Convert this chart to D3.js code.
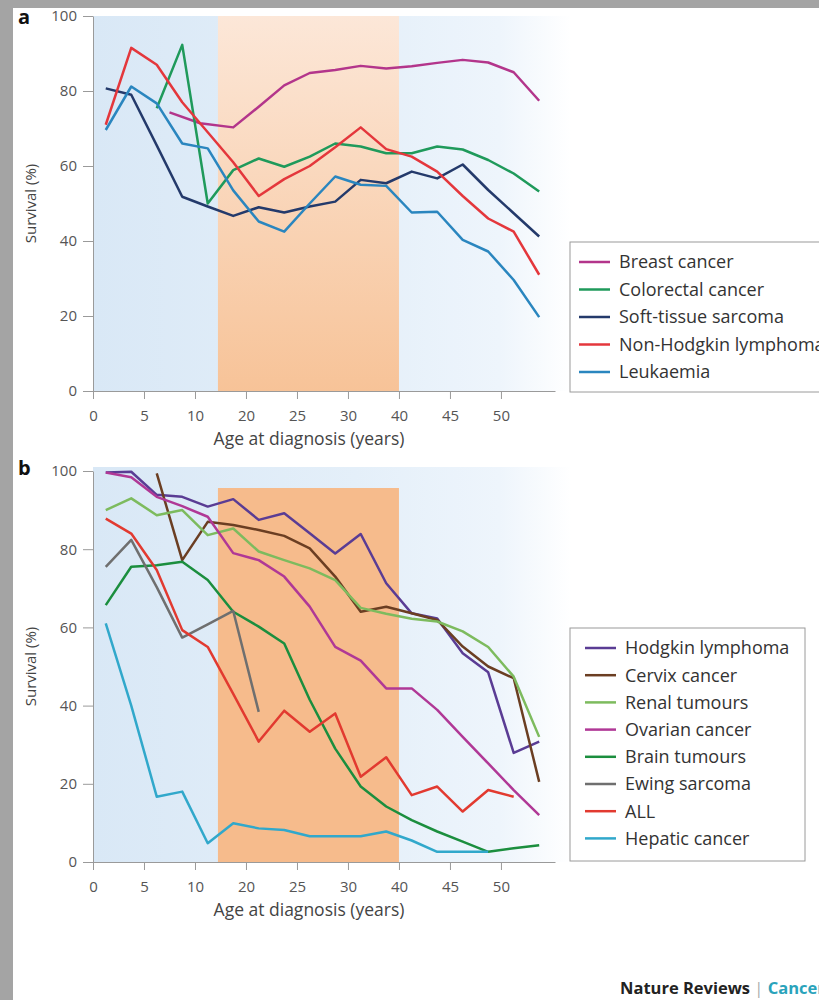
<!DOCTYPE html>
<html>
<head>
<meta charset="utf-8">
<script src="https://cdnjs.cloudflare.com/ajax/libs/d3/7.8.5/d3.min.js"></script>
<style>
  body { margin: 0; background: #fff; }
  svg { display: block; font-family: "Open Sans", sans-serif; }
</style>
</head>
<body>
<div id="chart"></div>
<script>
var width = 819,
    height = 1000;

// the x axis is drawn in tick units: tick i carries label tickLabels[i]
var tickLabels = [0, 5, 10, 20, 25, 30, 40, 45, 50];
var yTicks = [0, 20, 40, 60, 80, 100];

// age groups (same positions for every series except breast cancer)
var agePos = [0.25, 0.75, 1.25, 1.75, 2.25, 2.75, 3.25, 3.75, 4.25,
              4.75, 5.25, 5.75, 6.25, 6.75, 7.25, 7.75, 8.25, 8.75];
var breastPos = [1.5, 2.1, 2.75, 3.25, 3.75, 4.25, 4.75, 5.25,
                 5.75, 6.25, 6.75, 7.25, 7.75, 8.25, 8.75];

// panel a
var breast     = [74.3, 71.4, 70.3, 75.8, 81.5, 84.8, 85.6, 86.7, 86, 86.6, 87.5, 88.3, 87.6, 85, 77.4];
var colorectal = [null, null, 75.4, 92.3, 50, 58.9, 62, 59.8, 62.5, 66, 65.2, 63.4, 63.4, 65.2, 64.4, 61.6, 58, 53.2];
var sarcoma    = [80.7, 79, 65.5, 51.8, 49.2, 46.7, 49, 47.6, 49.2, 50.5, 56.3, 55.4, 58.5, 56.7, 60.4, 53.6, 47.4, 41.2];
var nhl        = [71, 91.5, 87, 77, 69, 61, 52, 56.5, 60, 65, 70.3, 64.5, 62.5, 58.5, 52, 46, 42.5, 31];
var leukaemia  = [69.6, 81.2, 76.7, 66, 64.7, 53.5, 45.2, 42.5, 50, 57.2, 55, 54.7, 47.6, 47.8, 40.3, 37.2, 29.6, 19.7];

// panel b
var hodgkin = [99.6, 99.8, 93.9, 93.4, 90.9, 92.8, 87.5, 89.2, 84.1, 78.9, 83.9, 71.3, 63.6, 62.3, 53.4, 48.5, 27.9, 30.8];
var cervix  = [null, null, 99.4, 77.2, 87, 86.2, 84.9, 83.4, 80.2, 73, 64, 65.3, 63.6, 61.9, 55.1, 50, 47, 20.5];
var renal   = [90, 93, 88.7, 90, 83.6, 85.3, 79.4, 77.2, 75.1, 72.1, 65, 63.5, 62.2, 61.5, 59, 55, 47.4, 32];
var ovarian = [99.6, 98.4, 93.4, 91, 88.3, 79, 77.2, 73, 65.3, 55, 51.5, 44.4, 44.4, 38.9, 32, 25.2, 18.4, 12];
var brain   = [65.7, 75.5, 75.9, 76.8, 72.1, 64, 60.2, 55.9, 41.5, 29, 19.3, 14.2, 10.7, 7.8, 5.2, 2.6, 3.5, 4.3];
var ewing   = [75.5, 82.4, 70.3, 57.4, 60.8, 64.2, 38.4, null, null, null, null, null, null, null, null, null, null, null];
var all     = [87.8, 84, 74.7, 59.3, 55, 43, 30.8, 38.7, 33.3, 38, 21.8, 26.8, 17.1, 19.3, 12.9, 18.4, 16.7, null];
var hepatic = [61, 40, 16.7, 18, 4.8, 9.9, 8.6, 8.2, 6.6, 6.6, 6.6, 7.8, 5.5, 2.6, 2.6, 2.6, null, null];

// shaded age band (tick units)
var band = [2.45, 6.0];

var seriesA = [
  {name: 'Breast cancer', color: '#b3358b', x: breastPos, y: breast},
  {name: 'Colorectal cancer', color: '#1f9a5b', x: agePos, y: colorectal},
  {name: 'Soft-tissue sarcoma', color: '#243a6b', x: agePos, y: sarcoma},
  {name: 'Non-Hodgkin lymphoma', color: '#e4373c', x: agePos, y: nhl},
  {name: 'Leukaemia', color: '#2a86bf', x: agePos, y: leukaemia}
];
var seriesB = [
  {name: 'Hodgkin lymphoma', color: '#5a3c94', x: agePos, y: hodgkin},
  {name: 'Cervix cancer', color: '#6b3e22', x: agePos, y: cervix},
  {name: 'Renal tumours', color: '#7dbb5e', x: agePos, y: renal},
  {name: 'Ovarian cancer', color: '#b03896', x: agePos, y: ovarian},
  {name: 'Brain tumours', color: '#1b8e3e', x: agePos, y: brain},
  {name: 'Ewing sarcoma', color: '#6f6f6f', x: agePos, y: ewing},
  {name: 'ALL', color: '#e23a30', x: agePos, y: all},
  {name: 'Hepatic cancer', color: '#31a8cb', x: agePos, y: hepatic}
];

var svg = d3.select('#chart').append('svg')
    .attr('width', width)
    .attr('height', height);

var defs = svg.append('defs');
var blue = defs.append('linearGradient').attr('id', 'blueBg');
blue.append('stop').attr('offset', '0%').attr('stop-color', '#d9e8f6');
blue.append('stop').attr('offset', '55%').attr('stop-color', '#e4eff9');
blue.append('stop').attr('offset', '85%').attr('stop-color', '#eef5fc');
blue.append('stop').attr('offset', '100%').attr('stop-color', '#ffffff');
var peach = defs.append('linearGradient').attr('id', 'peachBg')
    .attr('x1', 0).attr('y1', 0).attr('x2', 0).attr('y2', 1);
peach.append('stop').attr('offset', '0%').attr('stop-color', '#fce7d8');
peach.append('stop').attr('offset', '100%').attr('stop-color', '#f7c398');

// grey frame of the scan
svg.append('rect').attr('width', width).attr('height', height).attr('fill', '#fff');
svg.append('rect').attr('width', width).attr('height', 8).attr('fill', '#a4a4a4');
svg.append('rect').attr('width', 13).attr('height', height).attr('fill', '#a4a4a4');

var x = d3.scaleLinear().domain([0, 9.06]).range([93, 555]);

function drawPanel(p) {
  var y = d3.scaleLinear().domain([0, 100]).range([p.bottom, p.top]);
  var g = svg.append('g');

  g.append('rect')
    .attr('x', x(0)).attr('y', p.bgTop)
    .attr('width', 478).attr('height', p.bottom - p.bgTop)
    .attr('fill', 'url(#blueBg)');
  g.append('rect')
    .attr('x', x(band[0])).attr('y', p.bandTop)
    .attr('width', x(band[1]) - x(band[0]))
    .attr('height', p.bottom - p.bandTop)
    .attr('fill', p.bandFill);

  var line = d3.line()
    .defined(function (d) { return d[1] != null; })
    .x(function (d) { return x(d[0]); })
    .y(function (d) { return y(d[1]); });

  g.selectAll('path.series').data(p.series)
    .enter().append('path')
    .attr('class', 'series')
    .attr('fill', 'none')
    .attr('stroke', function (s) { return s.color; })
    .attr('stroke-width', 2.5)
    .attr('stroke-linejoin', 'round')
    .attr('d', function (s) {
      return line(s.y.map(function (v, i) { return [s.x[i], v]; }));
    });

  var yAxis = g.append('g')
    .attr('transform', 'translate(' + x(0) + ',0)')
    .call(d3.axisLeft(y).tickValues(yTicks).tickSize(10).tickSizeOuter(0).tickPadding(6));
  var xAxis = g.append('g')
    .attr('transform', 'translate(0,' + p.bottom + ')')
    .call(d3.axisBottom(x).tickValues(d3.range(tickLabels.length))
      .tickFormat(function (i) { return tickLabels[i]; })
      .tickSize(8).tickSizeOuter(0).tickPadding(11));
  [yAxis, xAxis].forEach(function (a) {
    a.select('.domain').attr('stroke', '#9a9a9a');
    a.selectAll('.tick line').attr('stroke', '#9a9a9a');
    a.selectAll('.tick text').attr('fill', '#555').style('font-size', '15px')
      .style('font-family', '"Open Sans", sans-serif');
  });

  g.append('text')
    .attr('x', 309).attr('y', p.bottom + 54)
    .attr('text-anchor', 'middle')
    .attr('fill', '#444').style('font-size', '17.5px')
    .text('Age at diagnosis (years)');
  g.append('text')
    .attr('transform', 'translate(36,' + ((p.top + p.bottom) / 2) + ') rotate(-90)')
    .attr('text-anchor', 'middle')
    .attr('fill', '#444').style('font-size', '15px')
    .text('Survival (%)');
  g.append('text')
    .attr('x', 18).attr('y', p.top + p.labelDy)
    .attr('fill', '#111').style('font-size', '20px').style('font-weight', 'bold')
    .text(p.label);

  // legend
  var lg = g.append('g');
  lg.append('rect')
    .attr('x', 570).attr('y', p.legTop)
    .attr('width', p.legW).attr('height', p.legH)
    .attr('fill', '#fff').attr('stroke', '#9a9a9a').attr('stroke-width', 1);
  var item = lg.selectAll('g.item').data(p.series)
    .enter().append('g')
    .attr('transform', function (s, i) {
      return 'translate(0,' + (p.legTop + p.legFirst + i * p.legStep) + ')';
    });
  item.append('line')
    .attr('x1', p.swX).attr('x2', p.swX + 31)
    .attr('stroke', function (s) { return s.color; })
    .attr('stroke-width', 2.5);
  item.append('text')
    .attr('x', p.swX + 40).attr('dy', '0.35em')
    .attr('fill', '#333').style('font-size', '18px')
    .text(function (s) { return s.name; });
}

drawPanel({label: 'a', series: seriesA, top: 16, bottom: 391, bgTop: 16, bandTop: 16,
  bandFill: 'url(#peachBg)', labelDy: 8,
  legTop: 242, legW: 270, legH: 150, legFirst: 20, legStep: 27.5, swX: 579});
drawPanel({label: 'b', series: seriesB, top: 471, bottom: 862, bgTop: 467, bandTop: 488,
  bandFill: '#f6bb8c', labelDy: 4,
  legTop: 628, legW: 235, legH: 233, legFirst: 20, legStep: 27.2, swX: 585});

var credit = svg.append('text')
  .attr('x', 620).attr('y', 994)
  .style('font-size', '16.5px');
credit.append('tspan').attr('fill', '#222').style('font-weight', 'bold').text('Nature Reviews');
credit.append('tspan').attr('fill', '#aaa').text(' | ');
credit.append('tspan').attr('fill', '#2aa3bb').style('font-weight', 'bold').text('Cancer');
</script>
</body>
</html>
